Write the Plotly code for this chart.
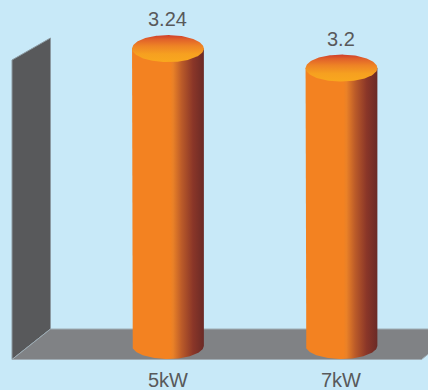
import numpy as np
import plotly.graph_objects as go

# ---- data ----
categories = ["5kW", "7kW"]
values = [3.24, 3.2]
value_labels = ["3.24", "3.2"]

# ---- layout constants ----
W, H = 428, 390
BG = "#c8e9f8"
Y_BASE = 2.631                 # axis floor value
Y_RANGE = [2.5397, 3.3397]
X_RANGE = [-0.968, 1.4986]
RX = 0.207                     # cylinder radius (x units)
RY = 0.0277                    # ellipse half-height (y units)
FONT = "Liberation Sans, Arial, sans-serif"
TXT = "#58595b"

body_scale = [[0, "#f38221"], [0.53, "#f38221"], [0.57, "#ea8127"],
              [0.69, "#bb5b29"], [0.85, "#8a3628"], [1, "#6a2a26"]]
top_scale = [[0, "#f9a81e"], [0.3, "#f6a020"], [0.6, "#ee8325"],
             [0.85, "#e0602a"], [1, "#cf3f2b"]]


def px(x, y):
    return x / W, 1 - y / H


def poly(pts):
    d = ""
    for k, (x, y) in enumerate(pts):
        xp, yp = px(x, y)
        d += ("M" if k == 0 else "L") + f"{xp:.5f},{yp:.5f} "
    return d + "Z"


fig = go.Figure()

# wall and floor (chart chrome)
shapes = [
    dict(type="path", xref="paper", yref="paper", layer="below",
         path=poly([(12, 60), (50.5, 38), (50.5, 329), (12, 359.5)]),
         fillcolor="#58595b", line=dict(color="#8c9aa2", width=1)),
    dict(type="path", xref="paper", yref="paper", layer="below",
         path=poly([(12, 359.5), (50.5, 329), (429, 329), (429, 353.5), (421.5, 359.5)]),
         fillcolor="#808285", line=dict(color="#9fadb5", width=1)),
]

t_half = np.linspace(0, np.pi, 80)
t_full = np.linspace(0, 2 * np.pi, 160)
annotations = []
for i, (cat, v, lab) in enumerate(zip(categories, values, value_labels)):
    cx = i
    bx = [cx - RX] + list(cx - RX * np.cos(t_half)) + [cx + RX, cx - RX]
    by = [v] + list(Y_BASE - RY * np.sin(t_half)) + [v, v]
    fig.add_trace(go.Scatter(
        x=bx, y=by, mode="lines", fill="toself", line=dict(width=0),
        fillgradient=dict(type="horizontal", colorscale=body_scale),
        hoverinfo="skip", showlegend=False))
    tx = list(cx + RX * np.cos(t_full))
    ty = list(v + RY * np.sin(t_full))
    fig.add_trace(go.Scatter(
        x=tx, y=ty, mode="lines", fill="toself", line=dict(width=0),
        fillgradient=dict(type="vertical", colorscale=top_scale),
        hoverinfo="skip", showlegend=False))
    annotations.append(dict(x=cx, y=v + RY, xref="x", yref="y", text=lab,
                            showarrow=False, yanchor="bottom", yshift=3,
                            font=dict(family=FONT, size=20, color=TXT)))
    annotations.append(dict(x=cx, y=1 - 380 / H, xref="x", yref="paper", text=cat,
                            showarrow=False, yanchor="middle",
                            font=dict(family=FONT, size=20, color=TXT)))

fig.update_layout(
    width=W, height=H,
    margin=dict(l=0, r=0, t=0, b=0),
    paper_bgcolor=BG, plot_bgcolor=BG,
    xaxis=dict(visible=False, range=X_RANGE, fixedrange=True),
    yaxis=dict(visible=False, range=Y_RANGE, fixedrange=True),
    shapes=shapes, annotations=annotations,
    showlegend=False, hovermode=False,
)

fig.write_html(
    "out.html",
    config={"displayModeBar": False},
    post_script="document.body.style.margin='0';document.body.style.overflow='hidden';",
)
